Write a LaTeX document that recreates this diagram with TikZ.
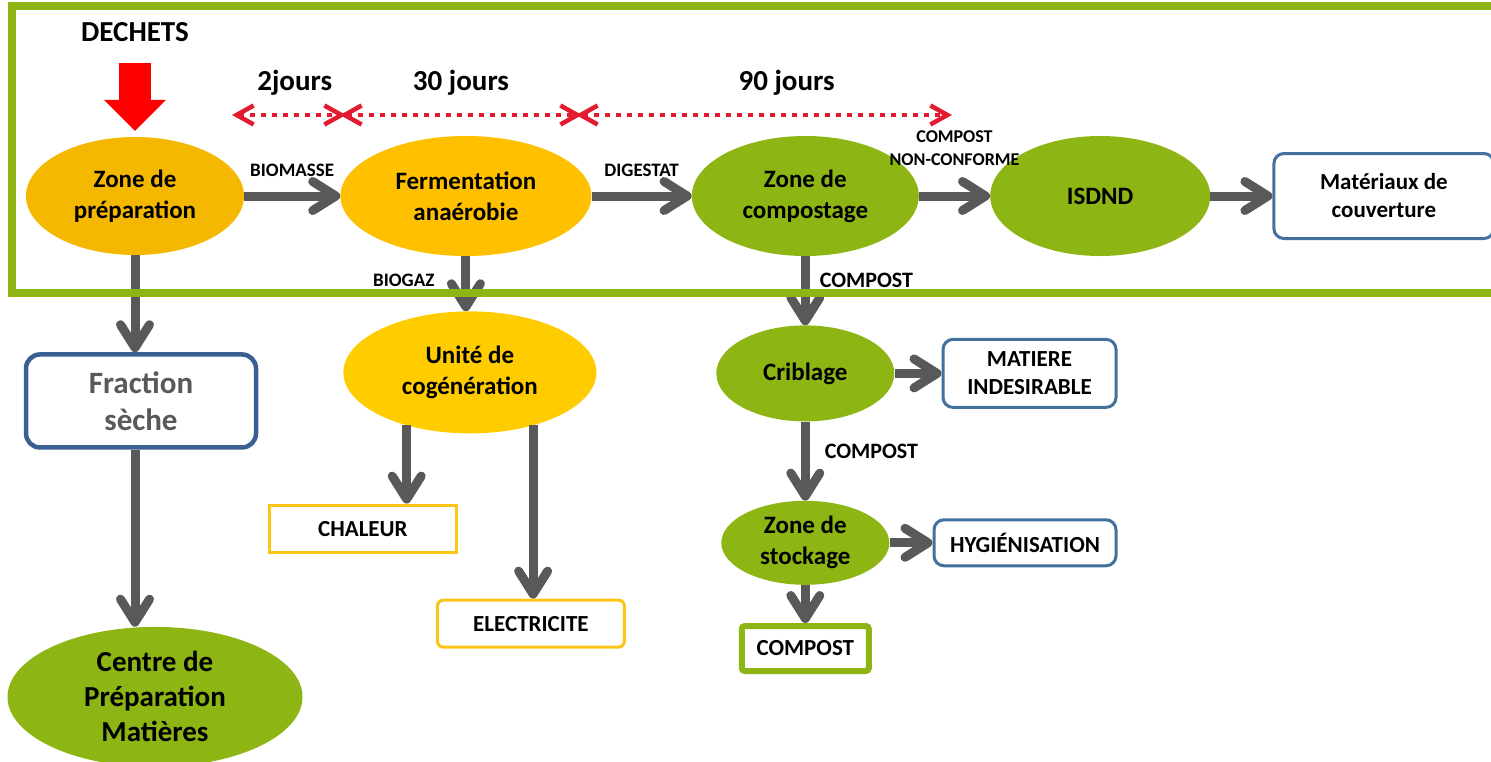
\documentclass[tikz,border=0pt]{standalone}
\usepackage{fontspec}
\setmainfont{Carlito}
\usetikzlibrary{shapes.geometric,arrows.meta,positioning}

\definecolor{vert}{RGB}{141,181,20}
\definecolor{orangeA}{RGB}{245,184,0}
\definecolor{orangeB}{RGB}{255,192,0}
\definecolor{jaune}{RGB}{255,204,0}
\definecolor{jauneBord}{RGB}{252,196,20}
\definecolor{gris}{RGB}{89,89,89}
\definecolor{bleu}{RGB}{65,113,156}
\definecolor{bleuF}{RGB}{58,95,145}
\definecolor{rouge}{RGB}{226,28,46}

\newcommand{\fEtape}{\fontsize{25}{31}\selectfont\bfseries}
\newcommand{\fBoite}{\fontsize{23}{28}\selectfont\bfseries}
\newcommand{\fLabel}{\fontsize{19}{23}\selectfont\bfseries}
\newcommand{\fJours}{\fontsize{29}{32}\selectfont\bfseries}

\begin{document}
\begin{tikzpicture}[x=1pt, y=-1pt, >={Straight Barb[length=23pt,width=29pt,round]},
    etape/.style={ellipse, inner sep=0pt, align=center, font=\fEtape},
    produit/.style={rectangle, rounded corners=10pt, draw=bleu, line width=3pt, fill=white, inner sep=0pt, align=center, font=\fBoite},
    fleche/.style={gris, line width=9pt, ->},
    duree/.style={rouge, line width=4.5pt, dash pattern=on 5pt off 6pt, <->, >={Straight Barb[length=17pt,width=19pt]}},
    lbl/.style={inner sep=0pt, align=center, text=black, font=\fLabel},
    jours/.style={inner sep=0pt, text=black, font=\fJours}]
    \useasboundingbox (0,0) rectangle (1491,761);

    % ligne principale
    \node[etape, fill=orangeA, minimum width=218pt, minimum height=118pt] (prep)      at (135,196)           {Zone de\\préparation};
    \node[etape, fill=orangeB, minimum width=251pt, minimum height=120pt] (ferm)      [right=96pt of prep]   {Fermentation\\anaérobie};
    \node[etape, fill=vert,    minimum width=227pt, minimum height=120pt] (compost)   [right=100pt of ferm]  {Zone de\\compostage};
    \node[etape, fill=vert,    minimum width=220pt, minimum height=120pt] (isdnd)     [right=71pt of compost] {ISDND};
    \node[produit, minimum width=220pt, minimum height=85pt]              (couverture) [right=62pt of isdnd] {Matériaux de\\couverture};

    \node[jours] (dechets) [above=95pt of prep] {DECHETS};

    % branches
    \node[produit, draw=bleuF, line width=4.5pt, rounded corners=14pt, text=gris, font=\fontsize{31}{37}\selectfont\bfseries,
          minimum width=230pt, minimum height=93pt] (fraction) [below=97pt of prep, xshift=6pt] {Fraction\\sèche};
    \node[etape, fill=vert, font=\fontsize{29}{35}\selectfont\bfseries, minimum width=295pt, minimum height=140pt]
          (centre) [below=177pt of fraction, xshift=14pt] {Centre de\\Préparation\\Matières};

    \node[etape, fill=jaune, minimum width=253pt, minimum height=122pt] (cogen) [below=55pt of ferm, xshift=4pt] {Unité de\\cogénération};
    \node[produit, draw=jauneBord, rounded corners=0pt, minimum width=187pt, minimum height=47pt] (chaleur) [below=70pt of cogen, xshift=-107pt] {CHALEUR};
    \node[produit, draw=jauneBord, rounded corners=6pt, minimum width=187pt, minimum height=47pt] (electricite) [below=165pt of cogen, xshift=61pt] {ELECTRICITE};

    \node[etape, fill=vert, minimum width=178pt, minimum height=96pt] (criblage)   [below=69pt of compost]  {Criblage};
    \node[produit, minimum width=173pt, minimum height=68pt]          (matiere)    [right=47pt of criblage] {MATIERE\\INDESIRABLE};
    \node[etape, fill=vert, minimum width=168pt, minimum height=84pt] (stockage)   [below=79pt of criblage] {Zone de\\stockage};
    \node[produit, minimum width=182pt, minimum height=46pt]          (hygiene)    [right=43pt of stockage] {HYGIÉNISATION};
    \node[produit, draw=vert, line width=6pt, rounded corners=3pt, minimum width=127pt, minimum height=45pt] (produitfinal) [below=38pt of stockage] {COMPOST};

    % fleches
    \draw[red, line width=32pt, -{Triangle[length=31pt,width=62pt,line width=0pt]}] ([yshift=-21pt]dechets.south) -- ([yshift=6pt]prep.north);

    \path[fleche] (prep)     edge node[lbl, above=15pt] {BIOMASSE} (ferm)
                  (ferm)     edge node[lbl, above=15pt] {DIGESTAT} (compost)
                  (compost)  edge node[lbl, above=26pt, font=\fontsize{18}{23}\selectfont\bfseries] {COMPOST\\NON-CONFORME} (isdnd)
                  (isdnd)    edge (couverture)
                  (prep)     edge (prep.south |- fraction.north)
                  (fraction.south -| prep) edge (prep |- centre.north)
                  (ferm)     edge node[lbl, left=27pt, yshift=3pt] {BIOGAZ} (ferm |- cogen.north)
                  (cogen.220) edge (cogen.220 |- chaleur.north)
                  (cogen.320) edge (cogen.320 |- electricite.north)
                  (compost)  edge node[lbl, right=10pt, yshift=10pt, font=\fontsize{22}{26}\selectfont\bfseries] {COMPOST} (criblage)
                  (criblage) edge (matiere)
                  (criblage) edge node[lbl, right=15pt, yshift=10pt, font=\fontsize{22}{26}\selectfont\bfseries] {COMPOST} (stockage)
                  (stockage) edge (hygiene)
                  (stockage) edge (produitfinal);

    % durees
    \coordinate (j0) at (232,115);
    \coordinate (j1) at (343,115);
    \coordinate (j2) at (579,115);
    \coordinate (j3) at (952,115);
    \path[duree] (j0) edge node[jours, above=17pt, pos=0.55] {2jours} ([xshift=3pt]j1)
                 ([xshift=-3pt]j1) edge node[jours, above=17pt] {30 jours} ([xshift=3pt]j2)
                 ([xshift=-3pt]j2) edge node[jours, above=17pt, pos=0.56] {90 jours} (j3);

    % cadre
    \draw[vert, line width=8pt] (12,6) rectangle (1530,293);
\end{tikzpicture}
\end{document}
